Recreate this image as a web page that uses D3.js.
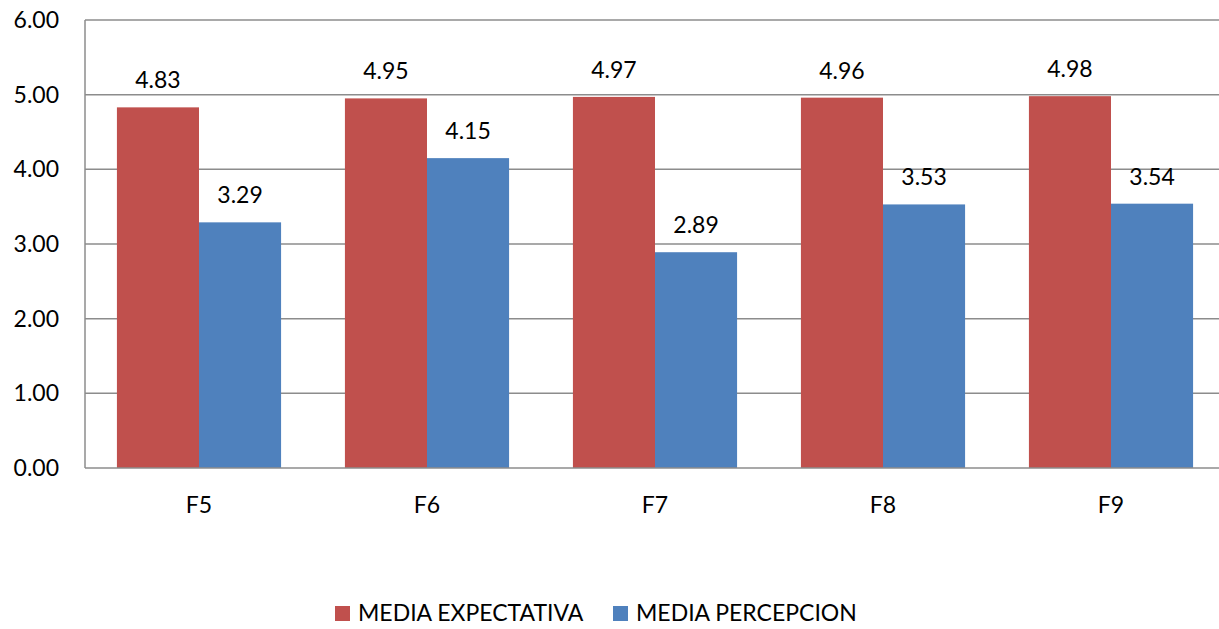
<!DOCTYPE html>
<html>
<head>
<meta charset="utf-8">
<script src="https://cdn.jsdelivr.net/npm/d3@7"></script>
<style>
  html, body { margin: 0; padding: 0; background: #fff; }
  svg text { font-family: Lato, "Open Sans", sans-serif; fill: #000; }
</style>
</head>
<body>
<svg id="chart" width="1219" height="629"></svg>
<script>
// ── Data ──────────────────────────────────────────────────────────
const categories  = ["F5", "F6", "F7", "F8", "F9"];
const expectativa = [4.83, 4.95, 4.97, 4.96, 4.98];
const percepcion  = [3.29, 4.15, 2.89, 3.53, 3.54];
const yTicks      = [0, 1, 2, 3, 4, 5, 6];
const seriesNames = ["MEDIA EXPECTATIVA", "MEDIA PERCEPCION"];
const seriesColor = ["#C0504D", "#4F81BD"];

// ── Layout ────────────────────────────────────────────────────────
const W = 1219, H = 629;
const plot = { left: 85, top: 20, right: 1225, bottom: 468 };
const FS = 23;

const svg = d3.select("#chart");

const x = d3.scaleBand()
  .domain(categories)
  .range([plot.left, plot.right])
  .paddingInner(0.28)
  .paddingOuter(0.14);

const xSub = d3.scaleBand()
  .domain([0, 1])
  .range([0, x.bandwidth()]);

const y = d3.scaleLinear()
  .domain([0, 6])
  .range([plot.bottom, plot.top]);

// gridlines
svg.append("g")
  .selectAll("line")
  .data(yTicks.slice(1))
  .join("line")
    .attr("x1", plot.left)
    .attr("x2", W)
    .attr("y1", d => y(d))
    .attr("y2", d => y(d))
    .attr("stroke", "#8c8c8c")
    .attr("stroke-width", 1.5);

// y axis labels
svg.append("g")
  .selectAll("text")
  .data(yTicks)
  .join("text")
    .attr("x", 59)
    .attr("y", d => y(d))
    .attr("dy", "0.35em")
    .attr("text-anchor", "end")
    .attr("font-size", FS)
    .text(d => d3.format(".2f")(d));

// bars
const series = [expectativa, percepcion];
const groups = svg.append("g")
  .selectAll("g")
  .data(categories)
  .join("g")
    .attr("transform", d => `translate(${x(d)},0)`);

groups.selectAll("rect")
  .data((d, i) => series.map((s, k) => ({ k, v: s[i] })))
  .join("rect")
    .attr("x", d => xSub(d.k))
    .attr("y", d => y(d.v))
    .attr("width", xSub.bandwidth())
    .attr("height", d => y(0) - y(d.v))
    .attr("fill", d => seriesColor[d.k]);

groups.selectAll("text.val")
  .data((d, i) => series.map((s, k) => ({ k, v: s[i] })))
  .join("text")
    .attr("class", "val")
    .attr("x", d => xSub(d.k) + xSub.bandwidth() / 2)
    .attr("y", d => y(d.v) - 27)
    .attr("dy", "0.35em")
    .attr("text-anchor", "middle")
    .attr("font-size", FS)
    .text(d => d3.format(".2f")(d.v));

// axes lines
svg.append("line")
  .attr("x1", plot.left).attr("x2", plot.left)
  .attr("y1", plot.top).attr("y2", plot.bottom)
  .attr("stroke", "#8c8c8c").attr("stroke-width", 1.5);
svg.append("line")
  .attr("x1", plot.left).attr("x2", W)
  .attr("y1", plot.bottom).attr("y2", plot.bottom)
  .attr("stroke", "#8c8c8c").attr("stroke-width", 1.5);

// category labels
svg.append("g")
  .selectAll("text")
  .data(categories)
  .join("text")
    .attr("x", d => x(d) + x.bandwidth() / 2)
    .attr("y", 505)
    .attr("dy", "0.35em")
    .attr("text-anchor", "middle")
    .attr("font-size", FS)
    .text(d => d);

// legend
const legendX = [335, 613];
const legend = svg.append("g")
  .selectAll("g")
  .data(seriesNames)
  .join("g")
    .attr("transform", (d, i) => `translate(${legendX[i]},613)`);
legend.append("rect")
  .attr("x", 0).attr("y", -7)
  .attr("width", 15).attr("height", 15)
  .attr("fill", (d, i) => seriesColor[i]);
legend.append("text")
  .attr("x", 23)
  .attr("dy", "0.35em")
  .attr("font-size", FS)
  .text(d => d);
</script>
</body>
</html>
